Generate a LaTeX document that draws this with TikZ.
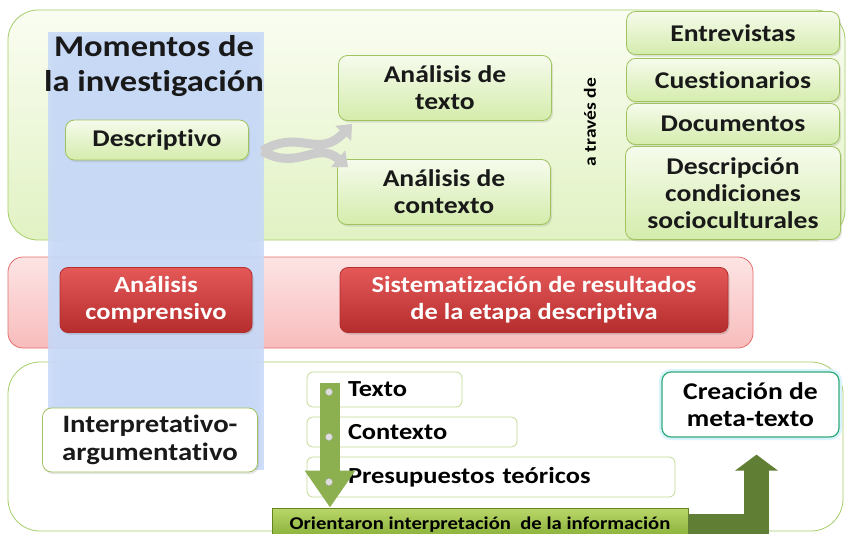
\documentclass[tikz,border=0pt]{standalone}
\usepackage{fontspec}
\setmainfont{Carlito}[FakeStretch=1.15,Ligatures=NoCommon]
\usetikzlibrary{shadows,arrows.meta,positioning}

\definecolor{panelline}{RGB}{165,205,105}
\definecolor{paneltop}{RGB}{250,253,242}
\definecolor{panelbot}{RGB}{225,242,195}
\definecolor{boxgreen}{RGB}{160,195,95}
\definecolor{gtop}{RGB}{246,251,236}
\definecolor{gbot}{RGB}{212,236,172}
\definecolor{redline}{RGB}{228,110,110}
\definecolor{redtop}{RGB}{253,228,228}
\definecolor{redbot}{RGB}{248,188,188}
\definecolor{rboxtop}{RGB}{228,88,88}
\definecolor{rboxbot}{RGB}{182,45,45}
\definecolor{bandblue}{RGB}{198,216,247}
\definecolor{brackline}{RGB}{195,220,150}
\definecolor{oritop}{RGB}{185,215,105}
\definecolor{oribot}{RGB}{125,165,45}
\definecolor{darkolive}{RGB}{96,126,52}
\definecolor{downgreen}{RGB}{140,175,80}
\definecolor{tealline}{RGB}{50,170,120}

\begin{document}
\begin{tikzpicture}[x=1pt,y=-1pt,
  gbox/.style={draw=boxgreen, line width=0.8pt, rounded corners=9pt,
    top color=gtop, bottom color=gbot, align=center, text=black!90,
    font=\bfseries\fontsize{24}{27}\selectfont,
    drop shadow={shadow xshift=1.5pt,shadow yshift=-2pt,opacity=0.2}},
  rbox/.style={draw=rboxbot, line width=0.8pt, rounded corners=8pt,
    top color=rboxtop, bottom color=rboxbot, align=center, text=white,
    font=\bfseries\fontsize{23}{27}\selectfont,
    drop shadow={shadow xshift=1.5pt,shadow yshift=-2pt,opacity=0.3}},
  brack/.style={draw=brackline, line width=0.8pt, rounded corners=6pt,
    fill=white, align=left, inner xsep=41pt, inner ysep=0pt,
    font=\bfseries\fontsize{23}{25}\selectfont},
  grayarr/.style={draw=gray!40, line width=9pt,
    -{Triangle[width=21pt,length=13pt]}}
]
\useasboundingbox (0,0) rectangle (846,533);

% panels
\draw[panelline, line width=0.8pt, rounded corners=30pt, top color=paneltop, bottom color=panelbot]
  (8,10) rectangle (845,240);
\draw[redline, line width=0.8pt, rounded corners=15pt, top color=redtop, bottom color=redbot]
  (8,257) rectangle (753,348);
\draw[panelline, line width=0.8pt, rounded corners=32pt, fill=white]
  (8,362) rectangle (843,531);

% blue band
\foreach \d/\o in {10/0.2,6/0.3,3/0.4,0/0.85}
  \fill[bandblue, opacity=\o] (48+\d,32+\d) rectangle (264-\d,470-\d);

% top part
\node[align=center, font=\bfseries\fontsize{30}{35}\selectfont, text=black!90] (title) at (154,66)
  {Momentos de\\la investigación};
\node[gbox, minimum width=183pt, minimum height=40pt] (desc) at (157,140) {Descriptivo};
\node[gbox, minimum width=213pt, minimum height=65pt] (atexto) at (445,88) {Análisis de\\texto};
\node[gbox, minimum width=213pt, minimum height=65pt] (acontexto) at (444,192) {Análisis de\\contexto};
\node[rotate=90, font=\bfseries\fontsize{17}{19}\selectfont] (traves) at (590,122) {a través de};

\node[gbox, minimum width=213pt, minimum height=43pt] (entrev) at (733,33) {Entrevistas};
\node[gbox, minimum width=213pt, minimum height=43pt] (cuest) at (733,80) {Cuestionarios};
\node[gbox, minimum width=213pt, minimum height=41pt] (docs) at (733,124) {Documentos};
\node[gbox, minimum width=215pt, minimum height=93pt] (descr) at (733,193)
  {Descripción\\condiciones\\socioculturales};

\coordinate (split) at (262,151);
\draw[grayarr] (split) .. controls (298,172) and (316,140) .. ([xshift=11pt,yshift=-8pt]acontexto.north west);
\draw[grayarr] (split) .. controls (300,128) and (318,160) .. ([xshift=14pt,yshift=-3pt]atexto.south west);

% middle part
\node[rbox, minimum width=192pt, minimum height=65pt] (comp) at (156,300) {Análisis\\comprensivo};
\node[rbox, minimum width=388pt, minimum height=65pt] (sist) at (534,300)
  {Sistematización de resultados\\de la etapa descriptiva};

% bottom part
\node[gbox, fill=white, top color=white, bottom color=white, minimum width=215pt, minimum height=64pt,
  font=\bfseries\fontsize{25}{28}\selectfont]
  (interp) at (150,440) {Interpretativo-\\argumentativo};

\node[brack, text width=73pt, minimum height=35pt] (texto) at (384.5,389.5) {Texto};
\node[brack, text width=128pt, minimum height=30pt] (contexto) at (412,432) {Contexto};
\node[brack, text width=286pt, minimum height=40pt] (presup) at (491,477) {Presupuestos teóricos};

\node[draw=oribot!80!black, line width=0.8pt, top color=oritop, bottom color=oribot,
  minimum width=416pt, minimum height=37pt, inner ysep=0pt, text depth=0pt,
  font=\bfseries\fontsize{18}{20}\selectfont] (orient) at (480,526.5)
  {\raisebox{6pt}{Orientaron interpretación\ \ de la información}};

\node[draw=tealline, line width=1.2pt, rounded corners=9pt, fill=white,
  preaction={draw=cyan!15, line width=6pt}, align=center,
  minimum width=177pt, minimum height=65pt, font=\bfseries\fontsize{24}{27}\selectfont]
  (creacion) at (750.5,404.5) {Creación de\\meta-texto};

\coordinate (arrtop) at (330,383);
\draw[downgreen, line width=20pt, -{Triangle[width=48pt,length=37pt]}]
  (arrtop) -- (arrtop |- orient.north);
\foreach \y in {392,437,482}
  \draw[gray!60, fill=gray!25] (329,\y) circle (3.5pt);

\draw[darkolive, line width=25pt, line join=miter, shorten >=17pt,
  -{Triangle[width=42pt,length=16pt]}]
  (orient.east) -| ([xshift=6pt]creacion.south);
\end{tikzpicture}
\end{document}
